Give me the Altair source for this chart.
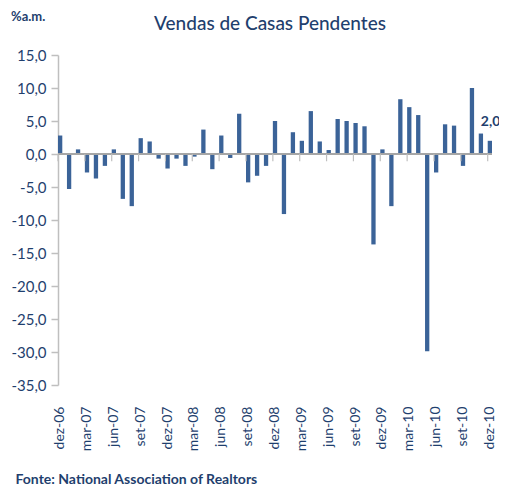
import altair as alt
import pandas as pd

month_abbr = ["jan", "fev", "mar", "abr", "mai", "jun", "jul", "ago", "set", "out", "nov", "dez"]
months = ["dez-06"] + [f"{m}-{y:02d}" for y in range(7, 11) for m in month_abbr]

values = [
    2.8, -5.3, 0.7, -2.8, -3.7, -1.8, 0.7, -6.8, -7.9, 2.4, 1.9, -0.7,
    -2.2, -0.7, -1.8, -0.4, 3.7, -2.3, 2.8, -0.6, 6.1, -4.3, -3.3, -1.8,
    5.0, -9.1, 3.3, 2.0, 6.5, 1.9, 0.6, 5.3, 5.0, 4.7, 4.2, -13.7,
    0.7, -7.9, 8.3, 7.1, 5.9, -29.9, -2.8, 4.5, 4.3, -1.8, 10.0, 3.1,
    2.0,
]

label_months = months[::3]
y_ticks = [15, 10, 5, 0, -5, -10, -15, -20, -25, -30, -35]

title_text = "Vendas de Casas Pendentes"
unit_text = "%a.m."
source_text = "Fonte: National Association of Realtors"

df = pd.DataFrame({"mes": months, "valor": values})
ticks_df = pd.DataFrame({"mes": label_months})
last_df = df.tail(1).copy()
last_df["rotulo"] = "2,0"

TXT = "#1F3F6E"
FONT = "Lato"

x_axis = alt.Axis(
    values=label_months,
    labelAngle=-90,
    labelFontSize=14,
    labelColor=TXT,
    labelFont=FONT,
    labelPadding=21,
    labelOverlap=False,
    ticks=False,
    domain=False,
    title=source_text,
    titleFont=FONT,
    titleFontSize=14,
    titleFontWeight="bold",
    titleColor=TXT,
    titleAnchor="start",
    titleAlign="left",
    titleBaseline="alphabetic",
    titleX=-43,
    titleY=98,
)

y_axis = alt.Axis(
    values=y_ticks,
    labelExpr="replace(replace(format(datum.value, '.1f'), '.', ','), '\u2212', '-')",
    labelFontSize=15,
    labelColor=TXT,
    labelFont=FONT,
    labelPadding=5,
    labelOverlap=False,
    labelSeparation=0,
    tickSize=7,
    tickColor="#BFBFBF",
    tickWidth=1.5,
    domainColor="#BFBFBF",
    domainWidth=1.5,
    grid=False,
    title=None,
)

x_scale = alt.Scale(domain=months, paddingInner=0.52, paddingOuter=0.0)
y_scale = alt.Scale(domain=[-35, 15], nice=False, zero=False)

bars = alt.Chart(df).mark_bar(color="#3B6398").encode(
    x=alt.X("mes:N", sort=months, scale=x_scale, axis=x_axis),
    y=alt.Y("valor:Q", scale=y_scale, axis=y_axis),
)

zero_line = alt.Chart(df).mark_rule(color="#A6A6A6", strokeWidth=1.5).encode(
    y=alt.Y(datum=0, type="quantitative", scale=y_scale, axis=y_axis),
)

cat_ticks = alt.Chart(ticks_df).mark_rule(color="#BFBFBF", strokeWidth=1.2).encode(
    x=alt.X("mes:N", sort=months, scale=x_scale, bandPosition=0, axis=x_axis),
    y=alt.Y(datum=0, type="quantitative", scale=y_scale, axis=y_axis),
    y2=alt.datum(-1.1),
)

last_label = alt.Chart(last_df).mark_text(
    align="left", baseline="bottom", dx=-9, dy=-12,
    fontSize=14, fontWeight="bold", color=TXT, font=FONT,
).encode(
    x=alt.X("mes:N", sort=months, scale=x_scale, axis=x_axis),
    y=alt.Y("valor:Q", scale=y_scale, axis=y_axis),
    text="rotulo:N",
)

unit_label = alt.Chart(last_df).mark_text(
    align="left", baseline="middle", fontSize=13, fontWeight="bold", color=TXT, font=FONT,
).encode(
    x=alt.value(-47),
    y=alt.value(-38),
    text=alt.value(unit_text),
)

title_label = alt.Chart(last_df).mark_text(
    align="center", baseline="alphabetic", fontSize=19, fontWeight=500, color=TXT, font=FONT,
).encode(
    x=alt.value(212),
    y=alt.value(-25),
    text=alt.value(title_text),
)

chart = alt.layer(bars, zero_line, cat_ticks, last_label, unit_label, title_label).properties(
    width=434,
    height=330,
    padding={"left": 50, "top": 47, "right": 7, "bottom": 100},
    autosize=alt.AutoSizeParams(type="none"),
).configure_view(stroke=None).configure_axisY(labelOverlap=False)

chart.save("out.html", embed_options={"renderer": "svg", "actions": False})
